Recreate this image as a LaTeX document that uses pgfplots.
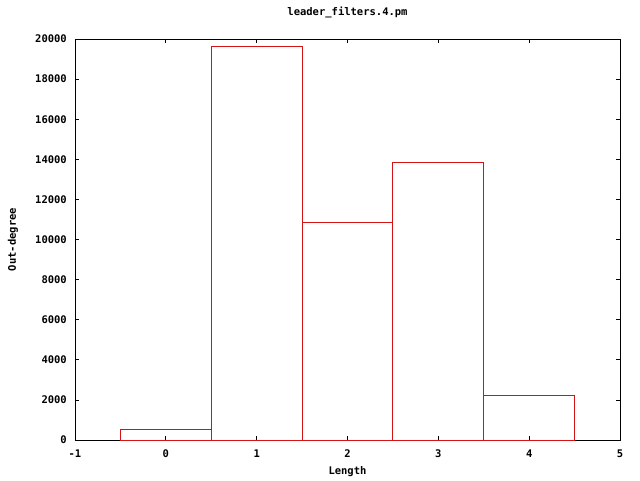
\documentclass[border=0pt]{standalone}
\usepackage{fontspec}
\setmainfont{DejaVu Sans Mono}
\usepackage{pgfplots}
\pgfplotsset{compat=1.18}
\definecolor{gpred}{RGB}{210,20,20}
\begin{document}
\fontsize{10.5bp}{12bp}\selectfont\bfseries
\begin{tikzpicture}
\begin{axis}[
  scale only axis,
  width=545bp, height=401bp,
  xmin=-1, xmax=5, ymin=0, ymax=20000,
  xtick={-1,0,1,2,3,4,5},
  ytick={0,2000,4000,6000,8000,10000,12000,14000,16000,18000,20000},
  scaled ticks=false,
  /pgf/number format/1000 sep={},
  /pgf/number format/assume math mode=true,
  tick align=inside,
  tick style={black, line width=0.8bp},
  major tick length=4bp,
  axis line style={black, line width=0.8bp},
  ticklabel style={font=\fontsize{10.5bp}{12bp}\selectfont\bfseries},
  label style={font=\fontsize{10.5bp}{12bp}\selectfont\bfseries},
  title style={font=\fontsize{10.5bp}{12bp}\selectfont\bfseries,
    at={(rel axis cs:0.5,1)}, anchor=center, yshift=21bp},
  xticklabel style={anchor=center, yshift=-14bp},
  yticklabel style={anchor=east, xshift=-4.5bp},
  title={leader\_filters.4.pm},
  xlabel={Length},
  ylabel={Out-degree},
  xlabel style={at={(rel axis cs:0.5,0)}, anchor=center, yshift=-32bp},
  ylabel style={at={(rel axis cs:0,0.5)}, anchor=center, yshift=62bp},
]
\addplot[ybar, bar width=1, draw=gpred, fill=none, line width=0.9bp]
  coordinates {(0,545) (1,19620) (2,10840) (3,13845) (4,2240)};
\end{axis}
\useasboundingbox (current axis.south west) ++(-75bp,-40bp) rectangle ++(640bp,480bp);
\end{tikzpicture}
\end{document}
